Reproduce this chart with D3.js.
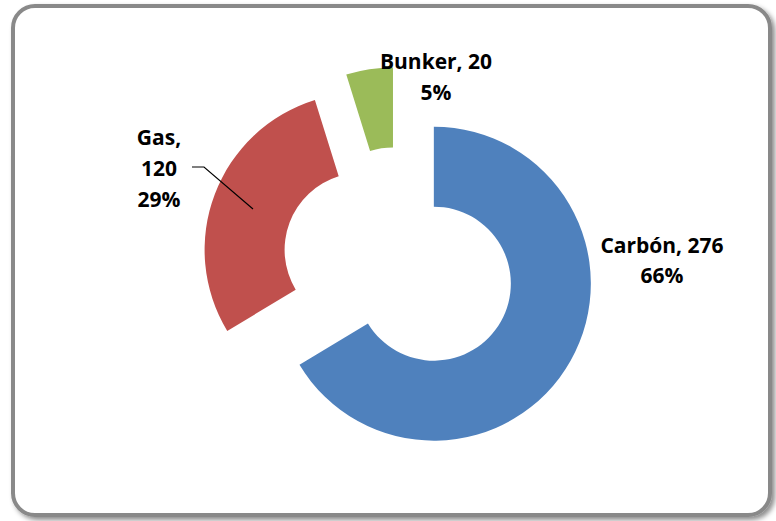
<!DOCTYPE html>
<html><head><meta charset="utf-8">
<script src="https://cdn.jsdelivr.net/npm/d3@7"></script>
<style>body{margin:0;background:#fff}svg{display:block}</style>
</head><body>
<svg id="c" width="776" height="521"></svg>
<script>
const categories = ["Carbón", "Gas", "Bunker"];
const values = [276, 120, 20];
const percentLabels = ["66%", "29%", "5%"];
const colors = ["#4F81BD", "#C0504D", "#9BBB59"];

const svg = d3.select("#c");
const defs = svg.append("defs");
const f = defs.append("filter").attr("id","sh").attr("x","-5%").attr("y","-5%").attr("width","110%").attr("height","110%");
f.append("feDropShadow").attr("dx",3).attr("dy",3).attr("stdDeviation",2.5).attr("flood-color","#000").attr("flood-opacity",0.45);

svg.append("rect").attr("x",13).attr("y",6).attr("width",757).attr("height",509)
  .attr("rx",22).attr("ry",22).attr("fill","#fff").attr("stroke","#898989").attr("stroke-width",4)
  .attr("filter","url(#sh)");

const cx = 399, cy = 264, rOuter = 157, rInner = 77, explode = 40;
const pie = d3.pie().sort(null).value(d => d);
const arcs = pie(values);
const arc = d3.arc().innerRadius(rInner).outerRadius(rOuter);

const g = svg.append("g").attr("transform", `translate(${cx},${cy})`);
g.selectAll("path").data(arcs).enter().append("path")
  .attr("d", arc)
  .attr("fill", (d,i) => colors[i])
  .attr("transform", d => {
    const m = (d.startAngle + d.endAngle)/2;
    return `translate(${explode*Math.sin(m)},${-explode*Math.cos(m)})`;
  });

const font = "'Open Sans', 'DejaVu Sans', sans-serif";
const T = (x, y, lines, anchor, step) => {
  const t = svg.append("text").attr("font-family", font).attr("font-weight","bold")
    .attr("font-size", 21).attr("fill","#000").attr("text-anchor", anchor);
  lines.forEach((s, k) => t.append("tspan").attr("x", x).attr("y", y + k*step).text(s));
};
T(662, 253, [`${categories[0]}, ${values[0]}`, percentLabels[0]], "middle", 30);
T(159, 145, [`${categories[1]},`, `${values[1]}`, percentLabels[1]], "middle", 31);
T(436, 69, [`${categories[2]}, ${values[2]}`, percentLabels[2]], "middle", 31);

// leader line for Gas
svg.append("path").attr("d","M192,167 L204,167 L253,209").attr("fill","none").attr("stroke","#000").attr("stroke-width",1.2);
</script>
</body></html>
